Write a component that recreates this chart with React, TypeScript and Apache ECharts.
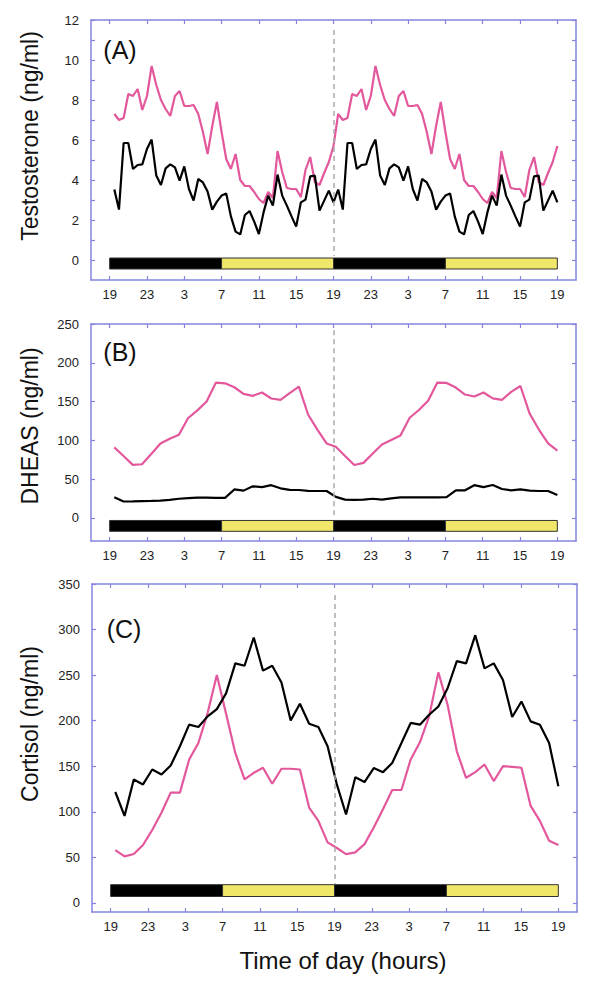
import React, { useEffect, useRef } from "react";
import * as echarts from "echarts";

// ---------- data ----------
// Testosterone: 30-min samples over one day (19:30 ... 19:00), double plotted
const testoPinkDay = [7.3, 7.0, 7.1, 8.3, 8.2, 8.55, 7.5, 8.2, 9.7, 8.75, 8.0, 7.55, 7.2, 8.2, 8.45, 7.7, 7.7, 7.75, 7.3, 6.4, 5.3, 6.7, 7.9, 6.4, 5.05, 4.55, 5.3, 4.0, 3.7, 3.7, 3.4, 3.05, 2.85, 3.4, 3.1, 5.45, 4.4, 3.6, 3.55, 3.55, 3.15, 4.5, 5.15, 3.9, 3.75, 4.35, 4.9, 5.7];
const testoBlackDay = [3.52, 2.52, 5.85, 5.85, 4.55, 4.75, 4.78, 5.55, 6.02, 4.22, 3.75, 4.58, 4.78, 4.63, 3.97, 4.68, 3.55, 2.97, 4.05, 3.88, 3.42, 2.52, 2.92, 3.22, 3.33, 2.18, 1.42, 1.28, 2.25, 2.45, 1.92, 1.3, 2.38, 3.22, 2.72, 4.27, 3.22, 2.72, 2.18, 1.67, 2.88, 3.02, 4.18, 4.22, 2.47, 2.97, 3.47, 2.88];
const halfHourTimes = Array.from({ length: 96 }, (_, i) => 0.5 * (i + 1));

// DHEAS and cortisol: ~hourly samples over the 48 h double plot
const hourlyTimes = Array.from({ length: 49 }, (_, i) => 0.5 + (i * 47.5) / 48);
const dheasPink = [90.8, 79.7, 68.2, 69, 82.3, 95.9, 101.9, 107, 128.7, 138.5, 150, 174.3, 173.5, 168.4, 159.8, 157.3, 161.6, 153.9, 152.2, 160.7, 169.2, 132.9, 113.8, 95.9, 91.6, 79.7, 68, 70.8, 83, 94.6, 100.2, 106, 129, 139, 151, 174.4, 174, 168, 159, 156.5, 161.6, 154, 152.2, 162.4, 170, 134.3, 113.8, 95.9, 86.5];
const dheasBlack = [26.4, 21, 21.2, 21.5, 21.8, 22.2, 23, 24.5, 25.3, 26, 26, 25.6, 25.6, 36.5, 35, 40.5, 39.5, 42, 38, 36, 35.8, 34.8, 34.5, 34.5, 27, 23.4, 23, 23.4, 24.5, 23.4, 25, 26.2, 26.4, 26.4, 26.2, 26.4, 26.6, 35.4, 35.4, 42, 39.6, 42.2, 37.1, 35.4, 36.7, 35, 34.5, 34.5, 29.4];
const cortPink = [58, 51, 53.6, 63.5, 80, 99, 121, 121, 157.4, 175.5, 208.3, 250.1, 207.6, 164.6, 135.5, 142.8, 148.3, 130.8, 147.2, 147.2, 146.4, 104.6, 90, 66.4, 60.2, 53.6, 55.4, 64.5, 82.7, 102.8, 123.9, 123.9, 157.4, 176.3, 204.7, 253, 217.4, 166.4, 137.3, 143.5, 151.9, 133.7, 150, 149.3, 148.3, 106.4, 90, 68.2, 63.5];
const cortBlack = [121.7, 95.5, 135.5, 130, 146.4, 141, 150.8, 171.9, 195.6, 193, 204.7, 212.7, 230, 262.9, 260.3, 291.3, 254.9, 260.3, 241.8, 200.3, 218.5, 196.7, 193, 171.9, 130, 97, 138, 132.6, 148, 143.5, 153.6, 175.5, 197.5, 195.6, 206.5, 215.6, 235.6, 265.4, 262.9, 293.8, 257.4, 262.9, 244.7, 204, 221, 199.2, 195.6, 175.5, 128];

// x axis: hours since 19:00
const xTickHours = [0, 4, 8, 12, 16, 20, 24, 28, 32, 36, 40, 44, 48];
const xTickLabels = ["19", "23", "3", "7", "11", "15", "19", "23", "3", "7", "11", "15", "19"];

// y ticks
const testoTicks = [0, 1, 2, 3, 4, 5, 6, 7, 8, 9, 10, 11, 12];
const testoLabels = [0, 2, 4, 6, 8, 10, 12];
const dheasTicks = [0, 50, 100, 150, 200, 250];
const cortTicks = [0, 50, 100, 150, 200, 250, 300, 350];

// light/dark bar
const periodStart = [0, 12, 24, 36];
const periodEnd = [12, 24, 36, 48];
const periodDark = [1, 0, 1, 0];
const barYA = [-0.45, 0.1];
const barYB = [-17.5, -3.5];
const barYC = [7, 20];

const PINK = "#e3579c";
const BLACK = "#000000";
const FRAME = "#8585e0";
const YELLOW = "#efe66a";
const FONT = "Liberation Sans, Arial, Helvetica, sans-serif";

function pairs(times: number[], vals: number[]) {
  return vals.map((v, i) => [times[i], v]);
}

export default function App() {
  const ref = useRef<HTMLDivElement>(null);

  useEffect(() => {
    if (!ref.current) return;
    const chart = echarts.init(ref.current, undefined, { renderer: "svg" });

    const grids = [
      { left: 91, top: 20, width: 485, height: 260 },
      { left: 91, top: 324, width: 485, height: 217 },
      { left: 92, top: 584, width: 485, height: 328 },
    ];
    const yCfg = [
      { min: -1, max: 12, ticks: testoTicks, labels: testoLabels },
      { min: -30, max: 250, ticks: dheasTicks, labels: dheasTicks },
      { min: -10, max: 350, ticks: cortTicks, labels: cortTicks },
    ];

    const axisLine = { show: true, onZero: false, lineStyle: { color: FRAME, width: 1.5 } };
    const tick = { show: true, inside: true, length: 4, lineStyle: { color: FRAME, width: 1.2 } };

    const xAxis: any[] = [];
    const yAxis: any[] = [];
    grids.forEach((_, g) => {
      xAxis.push({
        type: "value", gridIndex: g, min: -2, max: 50, position: "bottom",
        axisLine, splitLine: { show: false },
        axisTick: { ...tick, customValues: xTickHours },
        axisLabel: {
          customValues: xTickHours, margin: 8, fontSize: 13, color: "#222", fontFamily: FONT,
          formatter: (v: number) => xTickLabels[xTickHours.indexOf(Math.round(v))] ?? "",
        },
      });
      xAxis.push({
        type: "value", gridIndex: g, min: -2, max: 50, position: "top",
        axisLine, splitLine: { show: false },
        axisTick: { ...tick, customValues: xTickHours },
        axisLabel: { show: false },
      });
      const c = yCfg[g];
      yAxis.push({
        type: "value", gridIndex: g, min: c.min, max: c.max, position: "left",
        axisLine, splitLine: { show: false },
        axisTick: { ...tick, customValues: c.ticks },
        axisLabel: { customValues: c.labels, margin: 12, fontSize: 13, color: "#222", fontFamily: FONT },
      });
      yAxis.push({
        type: "value", gridIndex: g, min: c.min, max: c.max, position: "right",
        axisLine, splitLine: { show: false },
        axisTick: { ...tick, customValues: c.ticks },
        axisLabel: { show: false },
      });
    });

    const barData = (yr: number[]) =>
      periodStart.map((s, i) => [s, periodEnd[i], periodDark[i], yr[0], yr[1]]);

    const barSeries = (g: number, yr: number[]) => ({
      type: "custom",
      xAxisIndex: g * 2,
      yAxisIndex: g * 2,
      silent: true,
      z: 1,
      encode: { x: [0, 1], y: [3, 4] },
      data: barData(yr),
      renderItem: (_p: any, api: any) => {
        const a = api.coord([api.value(0), api.value(4)]);
        const b = api.coord([api.value(1), api.value(3)]);
        return {
          type: "rect",
          shape: { x: a[0], y: a[1], width: b[0] - a[0], height: b[1] - a[1] },
          style: { fill: api.value(2) ? "#000" : YELLOW, stroke: "#333", lineWidth: 1 },
        };
      },
    });

    const dashed = (top: number, bottom: number) => ({
      symbol: ["none", "none"],
      silent: true,
      label: { show: false },
      lineStyle: { color: "#aaaaaa", type: [5, 4], width: 1.5 },
      data: [[{ coord: [24, top] }, { coord: [24, bottom] }]],
    });

    const line = (g: number, data: number[][], color: string, z: number, markLine?: any) => ({
      type: "line",
      xAxisIndex: g * 2,
      yAxisIndex: g * 2,
      data,
      showSymbol: false,
      symbol: "none",
      z,
      lineStyle: { color, width: 2.2 },
      itemStyle: { color },
      ...(markLine ? { markLine } : {}),
    });

    const textStyle = (txt: string, size: number) => ({
      text: txt, fontSize: size, fill: "#111", fontFamily: FONT, align: "center", verticalAlign: "middle",
    });

    chart.setOption({
      animation: false,
      backgroundColor: "#ffffff",
      grid: grids,
      xAxis,
      yAxis,
      series: [
        barSeries(0, barYA),
        line(0, pairs(halfHourTimes, testoPinkDay.concat(testoPinkDay)), PINK, 3, dashed(11.5, 0.2)),
        line(0, pairs(halfHourTimes, testoBlackDay.concat(testoBlackDay)), BLACK, 4),
        barSeries(1, barYB),
        line(1, pairs(hourlyTimes, dheasPink), PINK, 3, dashed(242, -2)),
        line(1, pairs(hourlyTimes, dheasBlack), BLACK, 4),
        barSeries(2, barYC),
        line(2, pairs(hourlyTimes, cortPink), PINK, 3, dashed(338, 21)),
        line(2, pairs(hourlyTimes, cortBlack), BLACK, 4),
      ],
      graphic: [
        { type: "text", x: 120, y: 50, style: textStyle("(A)", 25) },
        { type: "text", x: 120, y: 352, style: textStyle("(B)", 25) },
        { type: "text", x: 124, y: 629, style: textStyle("(C)", 25) },
        { type: "text", x: 30, y: 136, rotation: Math.PI / 2, style: textStyle("Testosterone (ng/ml)", 23) },
        { type: "text", x: 30, y: 426, rotation: Math.PI / 2, style: textStyle("DHEAS (ng/ml)", 23) },
        { type: "text", x: 30, y: 724, rotation: Math.PI / 2, style: textStyle("Cortisol (ng/ml)", 23) },
        { type: "text", x: 343, y: 960, style: textStyle("Time of day (hours)", 24) },
      ],
    });

    return () => chart.dispose();
  }, []);

  return (
    <div
      ref={ref}
      style={{ position: "absolute", left: 0, top: 0, width: 594, height: 988, background: "#fff" }}
    />
  );
}
